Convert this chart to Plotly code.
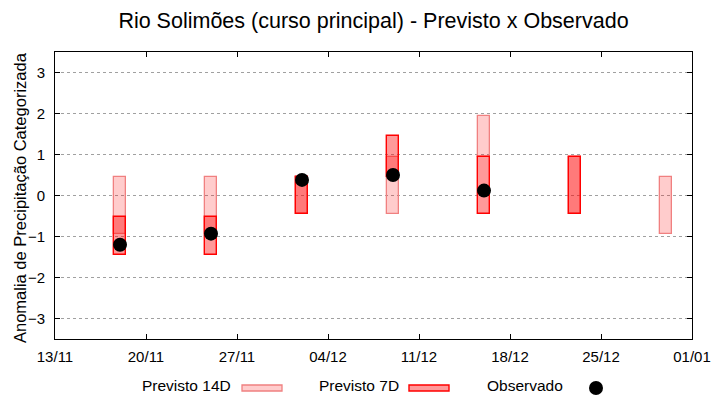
import plotly.graph_objects as go

# ---- data ----
dates_14d = ['2023-11-18', '2023-11-25', '2023-12-02', '2023-12-09',
             '2023-12-16', '2023-12-23', '2023-12-30']
prev14_low = [-0.95, -0.95, -0.45, -0.45, 0.95, -0.45, -0.95]
prev14_high = [0.45, 0.45, 0.45, 0.95, 1.95, 0.95, 0.45]

dates_7d = ['2023-11-18', '2023-11-25', '2023-12-02', '2023-12-09',
            '2023-12-16', '2023-12-23']
prev7_low = [-1.45, -1.45, -0.45, 0.45, -0.45, -0.45]
prev7_high = [-0.52, -0.52, 0.45, 1.45, 0.95, 0.95]

dates_obs = ['2023-11-18', '2023-11-25', '2023-12-02', '2023-12-09', '2023-12-16']
observado = [-1.2, -0.93, 0.38, 0.5, 0.12]

x_ticks = ['2023-11-13', '2023-11-20', '2023-11-27', '2023-12-04',
           '2023-12-11', '2023-12-18', '2023-12-25', '2024-01-01']
x_ticktext = ['13/11', '20/11', '27/11', '04/12', '11/12', '18/12', '25/12', '01/01']
y_ticks = [-3, -2, -1, 0, 1, 2, 3]

title = 'Rio Solimões (curso principal) - Previsto x Observado'
y_title = 'Anomalia de Precipitação Categorizada'
legend_labels = ['Previsto 14D', 'Previsto 7D', 'Observado']

# ---- styles ----
FONT = 'Liberation Sans, Arial, sans-serif'
DAY_MS = 86400000
C14_FILL = 'rgba(255,0,0,0.2)'
C14_LINE = '#f08080'
C7_FILL = 'rgba(255,0,0,0.4)'
C7_LINE = '#ff0000'

W, H = 720, 400
L, R, T, B = 55, 28, 52, 61
PW, PH = W - L - R, H - T - B

fig = go.Figure()
fig.add_trace(go.Bar(
    x=dates_14d, base=prev14_low,
    y=[h - l for h, l in zip(prev14_high, prev14_low)],
    width=0.95 * DAY_MS,
    marker=dict(color=C14_FILL, line=dict(color=C14_LINE, width=1.3)),
    name=legend_labels[0], showlegend=False))
fig.add_trace(go.Bar(
    x=dates_7d, base=prev7_low,
    y=[h - l for h, l in zip(prev7_high, prev7_low)],
    width=0.95 * DAY_MS,
    marker=dict(color=C7_FILL, line=dict(color=C7_LINE, width=1.4)),
    name=legend_labels[1], showlegend=False))
fig.add_trace(go.Scatter(
    x=dates_obs, y=observado, mode='markers',
    marker=dict(color='black', size=14, symbol='circle'),
    name=legend_labels[2], showlegend=False))


def px(x):
    return (x - L) / PW


def py(y):
    return (H - B - y) / PH


# manual gnuplot-style legend (text left of symbol)
annotations = []
shapes = []
leg_y = 385
items = [
    (233, 242, 282, 'rect14'),
    (401, 409, 449, 'rect7'),
    (565, 589, 603, 'dot'),
]
for label, (tx, sx0, sx1, kind) in zip(legend_labels, items):
    annotations.append(dict(
        x=px(tx), y=py(leg_y), xref='paper', yref='paper',
        text=label, showarrow=False, xanchor='right', yanchor='middle',
        font=dict(family=FONT, size=15.5, color='black')))
    if kind == 'rect14':
        shapes.append(dict(type='rect', xref='paper', yref='paper',
                           x0=px(sx0), x1=px(sx1), y0=py(385), y1=py(391),
                           fillcolor=C14_FILL, line=dict(color=C14_LINE, width=1.3)))
    elif kind == 'rect7':
        shapes.append(dict(type='rect', xref='paper', yref='paper',
                           x0=px(sx0), x1=px(sx1), y0=py(385), y1=py(391),
                           fillcolor=C7_FILL, line=dict(color=C7_LINE, width=1.4)))
    else:
        shapes.append(dict(type='circle', xref='paper', yref='paper',
                           x0=px(sx0), x1=px(sx1), y0=py(381), y1=py(395),
                           fillcolor='black', line=dict(color='black', width=0)))

# y-axis title placed like gnuplot's ylabel
annotations.append(dict(
    x=px(20), y=py(198), xref='paper', yref='paper', text=y_title,
    textangle=-90, showarrow=False, xanchor='center', yanchor='middle',
    font=dict(family=FONT, size=16.5, color='black')))

fig.update_layout(
    width=W, height=H,
    margin=dict(l=L, r=R, t=T, b=B, autoexpand=False),
    paper_bgcolor='white', plot_bgcolor='white',
    barmode='overlay', bargap=0,
    font=dict(family=FONT, color='black'),
    title=dict(text=title, x=0.5, xref='paper', y=1 - 20 / H, yref='container',
               xanchor='center', yanchor='middle',
               font=dict(family=FONT, size=21.5, color='black')),
    annotations=annotations,
    shapes=shapes,
)
fig.update_xaxes(
    type='date', range=['2023-11-13', '2024-01-01'],
    tickmode='array', tickvals=x_ticks, ticktext=x_ticktext,
    ticks='inside', ticklen=5, tickcolor='black',
    showline=True, linecolor='black', linewidth=1, mirror='allticks',
    showgrid=False, zeroline=False, automargin=False,
    tickfont=dict(family=FONT, size=15, color='black'),
    ticklabelstandoff=4,
)
fig.update_yaxes(
    range=[-3.5, 3.5], tickmode='array', tickvals=y_ticks,
    ticks='inside', ticklen=5, tickcolor='black',
    showline=True, linecolor='black', linewidth=1, mirror='allticks',
    showgrid=True, gridcolor='#a0a0a0', griddash='dot', gridwidth=1,
    zeroline=False, automargin=False,
    tickfont=dict(family=FONT, size=15, color='black'),
    ticklabelstandoff=6,
)

fig.write_html('out.html', config={'displayModeBar': False},
               post_script="document.body.style.margin='0px';")
